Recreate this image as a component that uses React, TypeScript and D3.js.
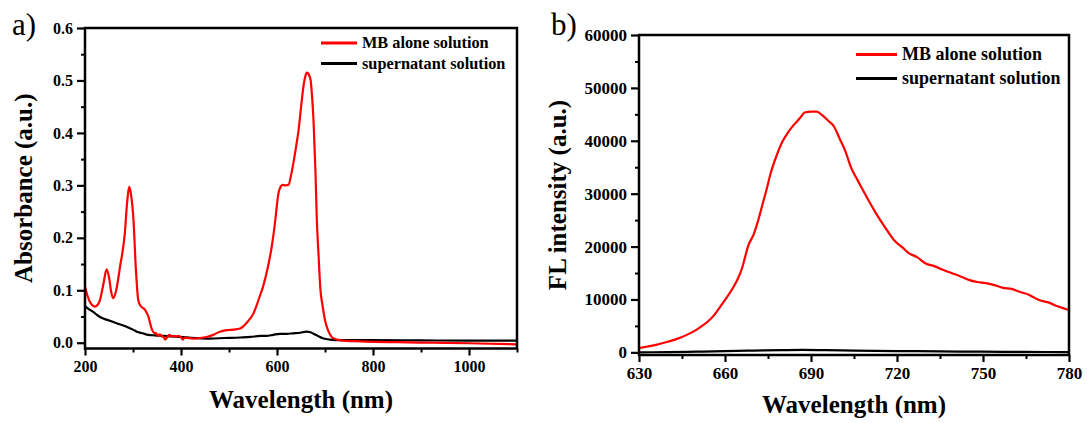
import React, { useRef, useEffect } from "react";
import * as d3 from "d3";

// a) UV-vis absorbance
const absWl = [200, 205, 212, 221, 230, 238, 245, 250, 255, 259, 265, 273, 283, 288, 292, 296, 301, 306, 311, 316, 321, 324, 328, 332, 336, 340, 344, 348, 352, 356, 360, 364, 367, 370, 373, 376, 380, 385, 390, 395, 400, 404, 408, 415, 426, 440, 453, 467, 481, 495, 510, 523, 537, 551, 565, 571, 580, 589, 596, 603, 608, 612, 618, 624, 629, 634, 640, 645, 650, 655, 659, 662, 666, 670, 673, 676, 680, 683, 687, 690, 695, 700, 707, 714, 725, 738, 760, 787, 850, 926, 1000, 1100];
const absMB = [0.107, 0.09, 0.075, 0.069, 0.078, 0.11, 0.14, 0.125, 0.095, 0.085, 0.1, 0.145, 0.209, 0.27, 0.297, 0.282, 0.234, 0.14, 0.081, 0.07, 0.066, 0.064, 0.058, 0.05, 0.036, 0.024, 0.019, 0.018, 0.013, 0.016, 0.012, 0.011, 0.006, 0.009, 0.012, 0.015, 0.012, 0.013, 0.012, 0.013, 0.01, 0.006, 0.01, 0.009, 0.008, 0.009, 0.011, 0.015, 0.021, 0.024, 0.025, 0.027, 0.038, 0.056, 0.091, 0.107, 0.14, 0.183, 0.23, 0.285, 0.298, 0.301, 0.3, 0.301, 0.318, 0.342, 0.375, 0.406, 0.448, 0.488, 0.508, 0.515, 0.512, 0.501, 0.47, 0.425, 0.33, 0.234, 0.16, 0.107, 0.07, 0.043, 0.022, 0.011, 0.006, 0.004, 0.003, 0.002, 0.001, 0, -0.001, -0.003];
const absSupWl = [200, 205, 217, 228, 238, 252, 266, 280, 290, 300, 308, 320, 332, 345, 363, 380, 398, 430, 460, 490, 523, 545, 565, 578, 592, 606, 620, 634, 648, 662, 670, 676, 685, 697, 710, 731, 800, 900, 1000, 1100];
const absSup = [0.07, 0.066, 0.059, 0.051, 0.046, 0.042, 0.037, 0.033, 0.029, 0.025, 0.021, 0.018, 0.015, 0.014, 0.013, 0.012, 0.011, 0.009, 0.008, 0.009, 0.01, 0.011, 0.013, 0.013, 0.015, 0.017, 0.017, 0.018, 0.019, 0.021, 0.02, 0.017, 0.013, 0.008, 0.006, 0.005, 0.005, 0.0045, 0.004, 0.004];
const absXTicks = [200, 400, 600, 800, 1000];
const absYTicks = [0, 0.1, 0.2, 0.3, 0.4, 0.5, 0.6];

// b) fluorescence
const flWl = [630, 633, 636, 640, 644, 647, 650, 652, 654, 656, 658, 660, 662, 664, 666, 667, 668, 670, 671.5, 673, 674.5, 676, 678, 680, 682, 684, 686, 688, 690, 692, 694, 696, 698, 700, 702, 704, 706, 708, 710, 713, 716, 719, 722, 724, 727, 730, 733, 736, 739, 742, 745, 748, 751, 754, 757, 760, 763, 766, 768, 770, 773, 776, 780];
const flMB = [800, 1100, 1420, 2000, 2690, 3400, 4260, 5000, 5830, 6900, 8360, 9900, 11500, 13400, 16000, 18000, 20000, 22300, 24800, 27800, 30800, 34000, 37200, 39800, 41600, 43000, 44200, 45400, 45500, 45500, 44800, 43800, 42700, 40400, 38000, 34900, 32800, 30800, 28800, 26000, 23500, 21200, 19800, 18800, 18000, 16800, 16300, 15600, 15000, 14400, 13700, 13300, 13100, 12700, 12200, 12000, 11400, 10900, 10300, 9800, 9400, 8700, 8000];
const flSupWl = [630, 640, 650, 660, 670, 680, 687, 695, 705, 720, 735, 750, 765, 780];
const flSup = [0, 50, 120, 220, 330, 420, 460, 420, 330, 250, 180, 120, 80, 60];
const flXTicks = [630, 660, 690, 720, 750, 780];
const flYTicks = [0, 10000, 20000, 30000, 40000, 50000, 60000];

const seriesNames = ["MB alone solution", "supernatant solution"];
const seriesColors = ["#ff0000", "#000000"];

const FONT = "'Liberation Serif', 'Times New Roman', serif";

function drawPanel(g, cfg) {
  const { left, right, top, bottom, xDomain, yDomain, xTicks, yTicks, xMinor, yMinor, yFmt, series, fs } = cfg;
  const x = d3.scaleLinear().domain(xDomain).range([left, right]);
  const y = d3.scaleLinear().domain(yDomain).range([bottom, top]);

  // minor ticks
  g.append("g")
    .attr("transform", `translate(0,${bottom})`)
    .call(d3.axisBottom(x).tickValues(xMinor).tickSize(4).tickFormat(() => ""))
    .call((s) => s.select(".domain").remove())
    .selectAll("line").attr("stroke-width", 2);
  g.append("g")
    .attr("transform", `translate(${left},0)`)
    .call(d3.axisLeft(y).tickValues(yMinor).tickSize(4).tickFormat(() => ""))
    .call((s) => s.select(".domain").remove())
    .selectAll("line").attr("stroke-width", 2);

  // major ticks
  const xa = g.append("g")
    .attr("transform", `translate(0,${bottom})`)
    .call(d3.axisBottom(x).tickValues(xTicks).tickSize(7).tickPadding(cfg.xPad).tickFormat(d3.format("d")));
  xa.select(".domain").remove();
  xa.selectAll("line").attr("stroke-width", 2.2);
  xa.selectAll("text").attr("font-family", FONT).attr("font-weight", "bold").attr("font-size", fs).attr("fill", "#000");

  const ya = g.append("g")
    .attr("transform", `translate(${left},0)`)
    .call(d3.axisLeft(y).tickValues(yTicks).tickSize(8).tickPadding(4).tickFormat(yFmt));
  ya.select(".domain").remove();
  ya.selectAll("line").attr("stroke-width", 2.2);
  ya.selectAll("text").attr("font-family", FONT).attr("font-weight", "bold").attr("font-size", fs).attr("fill", "#000");

  const clipId = "clip" + left;
  g.append("clipPath").attr("id", clipId)
    .append("rect").attr("x", left).attr("y", top).attr("width", right - left).attr("height", bottom - top);

  const line = d3.line().x((d) => x(d[0])).y((d) => y(d[1])).curve(d3.curveMonotoneX);
  // draw black first, red on top
  [1, 0].forEach((i) => {
    const s = series[i];
    g.append("path")
      .datum(s.wl.map((w, k) => [w, s.v[k]]))
      .attr("clip-path", `url(#${clipId})`)
      .attr("fill", "none")
      .attr("stroke", seriesColors[i])
      .attr("stroke-width", 2.2)
      .attr("stroke-linejoin", "round")
      .attr("d", line);
  });

  // frame
  g.append("rect")
    .attr("x", left).attr("y", top)
    .attr("width", right - left).attr("height", bottom - top)
    .attr("fill", "none").attr("stroke", "#000").attr("stroke-width", 2.5);

  // legend
  const lg = cfg.legend;
  seriesNames.forEach((name, i) => {
    const ly = lg.y + i * lg.dy;
    g.append("line")
      .attr("x1", lg.x).attr("x2", lg.x + lg.len)
      .attr("y1", ly).attr("y2", ly)
      .attr("stroke", seriesColors[i]).attr("stroke-width", 3);
    g.append("text")
      .attr("x", lg.x + lg.len + 5).attr("y", ly).attr("dy", "0.32em")
      .attr("font-family", FONT).attr("font-weight", "bold").attr("font-size", lg.fs)
      .text(name);
  });

  // axis titles
  g.append("text")
    .attr("x", (left + right) / 2).attr("y", cfg.xTitleY)
    .attr("text-anchor", "middle")
    .attr("font-family", FONT).attr("font-weight", "bold").attr("font-size", 25)
    .text("Wavelength (nm)");
  g.append("text")
    .attr("transform", `translate(${cfg.yTitleX},${(top + bottom) / 2}) rotate(-90)`)
    .attr("text-anchor", "middle")
    .attr("font-family", FONT).attr("font-weight", "bold").attr("font-size", 25)
    .text(cfg.yTitle);

  // panel label
  g.append("text")
    .attr("x", cfg.labelX).attr("y", 35)
    .attr("font-family", FONT).attr("font-size", 31)
    .text(cfg.label);
}

export default function App() {
  const svgRef = useRef(null);

  useEffect(() => {
    const svg = d3.select(svgRef.current);
    svg.selectAll("*").remove();

    drawPanel(svg.append("g"), {
      left: 85, right: 517, top: 28, bottom: 348.5,
      xDomain: [200, 1100], yDomain: [-0.011, 0.6],
      xTicks: absXTicks, yTicks: absYTicks,
      xMinor: [300, 500, 700, 900, 1100], yMinor: [0.05, 0.15, 0.25, 0.35, 0.45, 0.55],
      yFmt: d3.format(".1f"), fs: 16, xPad: 5,
      series: [{ wl: absWl, v: absMB }, { wl: absSupWl, v: absSup }],
      legend: { x: 321, y: 43, dy: 20.5, len: 36, fs: 16.3 },
      xTitleY: 408, yTitleX: 32, yTitle: "Absorbance (a.u.)",
      label: "a)", labelX: 12,
    });

    drawPanel(svg.append("g"), {
      left: 639, right: 1069, top: 35, bottom: 355,
      xDomain: [630, 780], yDomain: [-500, 60000],
      xTicks: flXTicks, yTicks: flYTicks,
      xMinor: [645, 675, 705, 735, 765], yMinor: [5000, 15000, 25000, 35000, 45000, 55000],
      yFmt: d3.format("d"), fs: 17, xPad: 5,
      series: [{ wl: flWl, v: flMB }, { wl: flSupWl, v: flSup }],
      legend: { x: 856, y: 54.5, dy: 24, len: 41, fs: 18 },
      xTitleY: 413, yTitleX: 566, yTitle: "FL intensity (a.u.)",
      label: "b)", labelX: 551,
    });
  }, []);

  return (
    <svg
      ref={svgRef}
      width={1087}
      height={423}
      style={{ position: "absolute", left: 0, top: 0, background: "#fff" }}
    />
  );
}
